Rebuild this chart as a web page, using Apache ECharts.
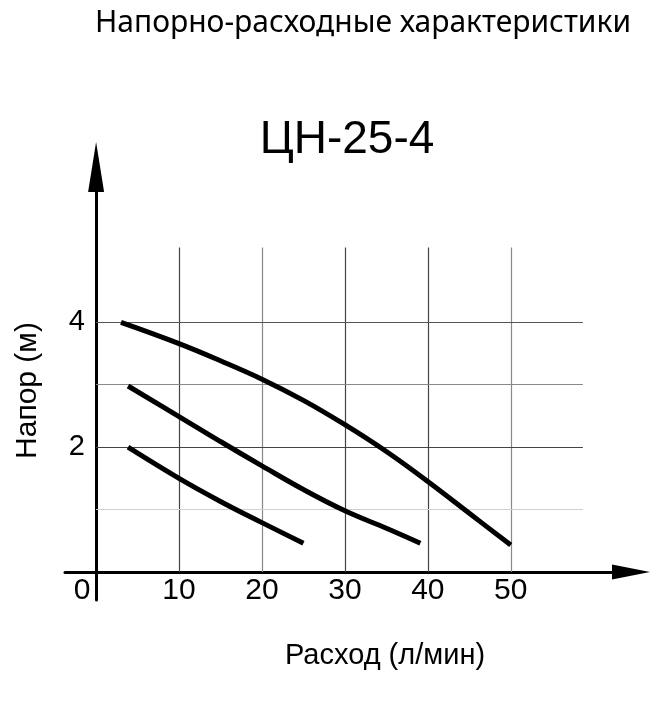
<!DOCTYPE html>
<html><head><meta charset="utf-8">
<script src="https://cdn.jsdelivr.net/npm/echarts@6/dist/echarts.min.js"></script>
<style>html,body{margin:0;padding:0;background:#fff}#c{width:672px;height:702px}</style>
</head><body><div id="c"></div>
<script>
const flowTicks = [0, 10, 20, 30, 40, 50];
const headTicks = [2, 4];
const gridFlow = [10, 20, 30, 40, 50];
const gridHead = [1, 2, 3, 4];
const curveHigh = [[3.0, 4.0], [10, 3.66], [15, 3.385], [20, 3.09], [25, 2.75], [30, 2.36], [35, 1.93], [40, 1.45], [45, 0.94], [50, 0.43]];
const curveMid = [[3.85, 2.98], [10, 2.49], [15, 2.09], [20, 1.70], [25, 1.32], [30, 0.98], [35, 0.70], [39.1, 0.46]];
const curveLow = [[3.85, 2.0], [10, 1.50], [15, 1.13], [20, 0.79], [25.0, 0.46]];
const gridTopHead = 5.2;
const gridRightFlow = 58.7;

const vColors = ['#444', '#888', '#444', '#444', '#888'];
const hColors = ['#d0d0d0', '#444', '#888', '#555'];

const gridLines = [];
gridFlow.forEach((x, i) => gridLines.push([{coord: [x, 0], lineStyle: {color: vColors[i], width: 1.2, type: 'solid'}}, {coord: [x, gridTopHead]}]));
gridHead.forEach((y, i) => gridLines.push([{coord: [0, y], lineStyle: {color: hColors[i], width: 1.2, type: 'solid'}}, {coord: [gridRightFlow, y]}]));

const chart = echarts.init(document.getElementById('c'), null, {renderer: 'canvas'});
const curveStyle = {color: '#000', width: 5, cap: 'butt'};
function curve(data) {
  return {type: 'line', data: data, smooth: 0.4, showSymbol: false, symbol: 'none', lineStyle: curveStyle, silent: true, z: 5};
}
chart.setOption({
  animation: false,
  backgroundColor: '#fff',
  title: [
    {text: 'Напорно-расходные характеристики', left: 358, top: 3, textAlign: 'center',
      textStyle: {fontFamily: 'Noto Sans', fontSize: 30, fontWeight: 'normal', color: '#000'}},
    {text: 'ЦН-25-4', left: 342, top: 112, textAlign: 'center',
      textStyle: {fontFamily: 'Liberation Sans', fontSize: 46, fontWeight: 'normal', color: '#000'}}
  ],
  grid: {left: 65, right: 41, top: 167, bottom: 102, containLabel: false, outerBoundsMode: 'none'},
  xAxis: {
    type: 'value', min: -3.75, max: 64.5,
    name: 'Расход (л/мин)', nameLocation: 'middle', nameGap: 41, nameMoveOverlap: false,
    nameTextStyle: {fontFamily: 'Liberation Sans', fontSize: 29, color: '#000', padding: [0, 0, 0, 74]},
    axisLine: {onZero: true, symbol: ['none', 'triangle'], symbolSize: [15, 38], lineStyle: {color: '#000', width: 3}},
    axisTick: {show: false},
    splitLine: {show: false},
    axisLabel: {
      customValues: flowTicks, margin: -24, color: '#000', fontFamily: 'Liberation Sans', fontSize: 30,
      formatter: v => v === 0 ? '{z|0}' : String(v),
      rich: {z: {padding: [0, 28, 0, 0], fontFamily: 'Liberation Sans', fontSize: 30, color: '#000'}}
    }
  },
  yAxis: {
    type: 'value', min: -0.45, max: 6.49,
    name: 'Напор (м)', nameLocation: 'middle', nameGap: 22, nameRotate: 90, nameMoveOverlap: false,
    nameTextStyle: {fontFamily: 'Liberation Sans', fontSize: 30, color: '#000', padding: [0, 14, 0, 0]},
    axisLine: {onZero: true, symbol: ['none', 'triangle'], symbolSize: [16, 50], lineStyle: {color: '#000', width: 3}},
    axisTick: {show: false},
    splitLine: {show: false},
    axisLabel: {customValues: headTicks, margin: -20, color: '#000', fontFamily: 'Liberation Sans', fontSize: 29, padding: [5, 0, 0, 0]}
  },
  series: [
    {type: 'line', data: [], silent: true, z: 1,
      markLine: {silent: true, symbol: ['none', 'none'], label: {show: false}, animation: false, data: gridLines}},
    curve(curveHigh), curve(curveMid), curve(curveLow)
  ]
});
</script></body></html>
